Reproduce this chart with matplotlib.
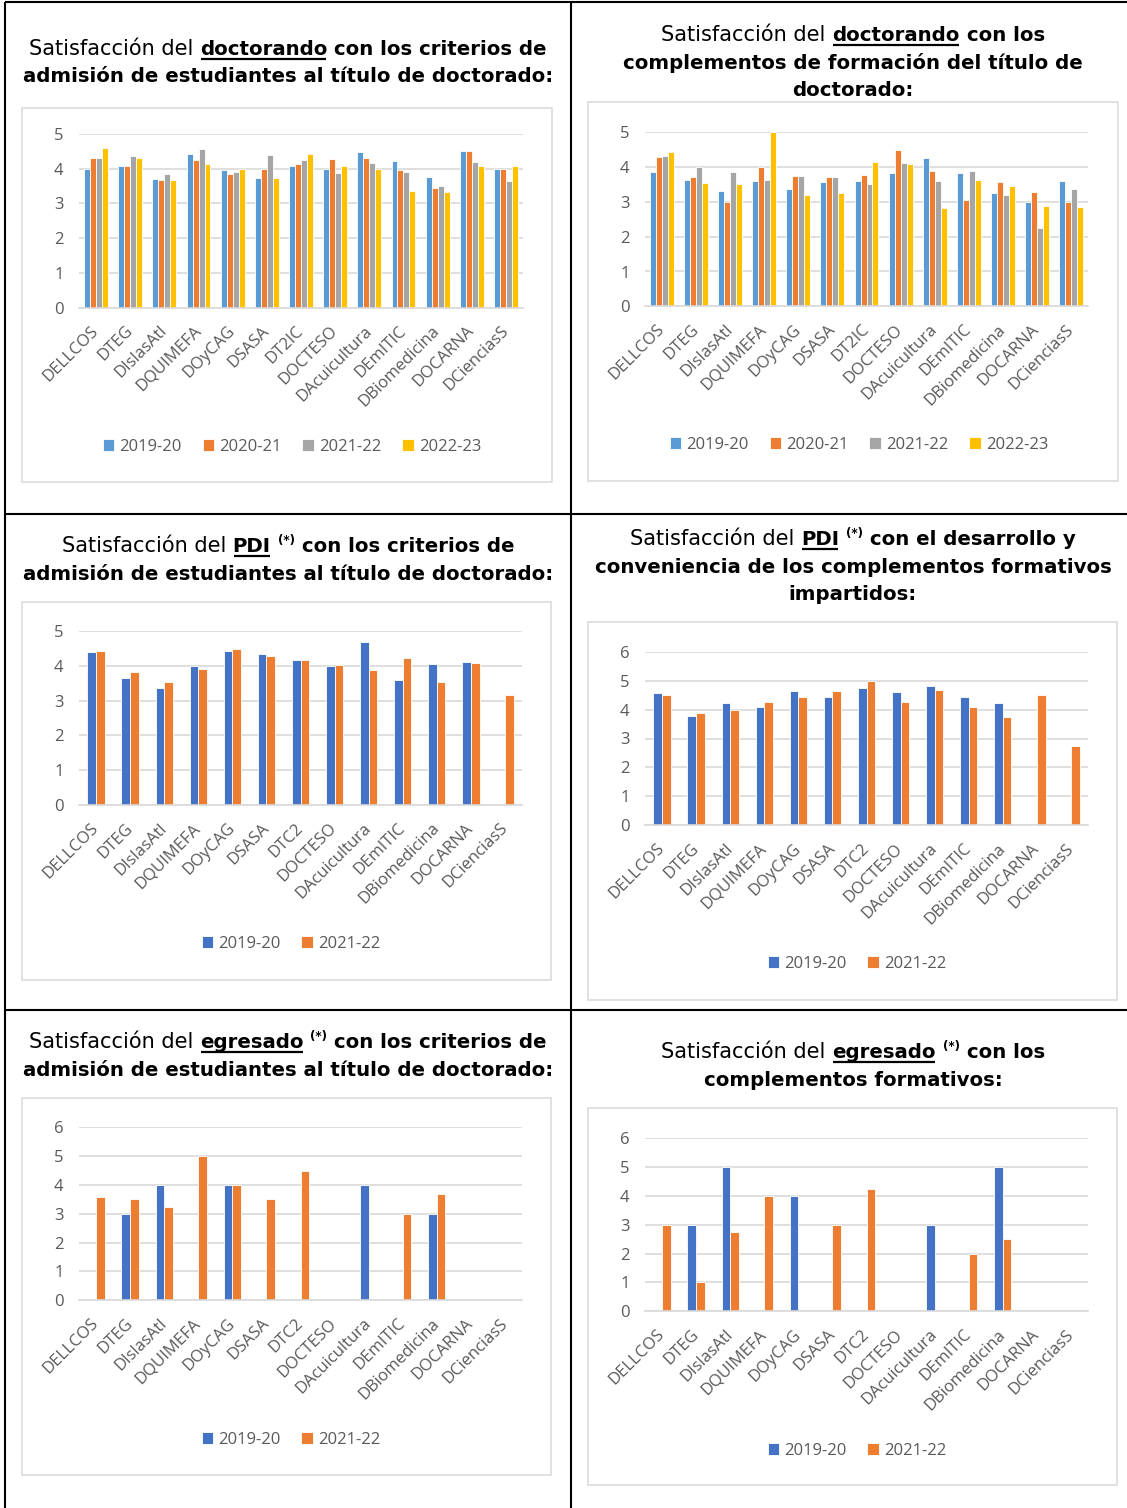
import matplotlib
matplotlib.use('Agg')
import matplotlib.pyplot as plt
from matplotlib.patches import Rectangle
import numpy as np

W, H = 1127, 1508

# ---- data ----
categories_a = ['DELLCOS', 'DTEG', 'DIslasAtl', 'DQUIMEFA', 'DOyCAG', 'DSASA', 'DT2IC',
                'DOCTESO', 'DAcuicultura', 'DEmITIC', 'DBiomedicina', 'DOCARNA', 'DCienciasS']
categories_b = ['DELLCOS', 'DTEG', 'DIslasAtl', 'DQUIMEFA', 'DOyCAG', 'DSASA', 'DTC2',
                'DOCTESO', 'DAcuicultura', 'DEmITIC', 'DBiomedicina', 'DOCARNA', 'DCienciasS']

years4 = ['2019-20', '2020-21', '2021-22', '2022-23']
years2 = ['2019-20', '2021-22']

# doctorando - criterios de admision
doct_adm_1920 = [4.0, 4.07, 3.7, 4.42, 3.95, 3.74, 4.07, 4.0, 4.47, 4.22, 3.77, 4.5, 4.0]
doct_adm_2021 = [4.31, 4.09, 3.67, 4.25, 3.86, 4.0, 4.14, 4.29, 4.31, 3.96, 3.45, 4.5, 4.0]
doct_adm_2122 = [4.3, 4.37, 3.84, 4.57, 3.91, 4.39, 4.24, 3.89, 4.16, 3.92, 3.49, 4.19, 3.64]
doct_adm_2223 = [4.59, 4.32, 3.68, 4.13, 4.0, 3.73, 4.42, 4.07, 4.0, 3.36, 3.32, 4.08, 4.09]

# doctorando - complementos de formacion
doct_comp_1920 = [3.87, 3.63, 3.32, 3.6, 3.37, 3.56, 3.6, 3.83, 4.25, 3.83, 3.25, 3.0, 3.6]
doct_comp_2021 = [4.29, 3.71, 3.0, 4.0, 3.73, 3.71, 3.76, 4.5, 3.9, 3.06, 3.56, 3.29, 3.0]
doct_comp_2122 = [4.33, 4.0, 3.87, 3.63, 3.75, 3.71, 3.5, 4.12, 3.6, 3.89, 3.21, 2.25, 3.38]
doct_comp_2223 = [4.44, 3.53, 3.5, 5.0, 3.2, 3.25, 4.15, 4.1, 2.83, 3.63, 3.46, 2.88, 2.86]

# PDI - criterios de admision
pdi_adm_1920 = [4.4, 3.64, 3.35, 4.0, 4.43, 4.33, 4.18, 4.0, 4.68, 3.58, 4.05, 4.1, None]
pdi_adm_2122 = [4.42, 3.83, 3.53, 3.92, 4.48, 4.28, 4.16, 4.03, 3.88, 4.22, 3.54, 4.08, 3.15]

# PDI - complementos formativos
pdi_comp_1920 = [4.57, 3.77, 4.22, 4.08, 4.63, 4.45, 4.76, 4.6, 4.8, 4.42, 4.24, None, None]
pdi_comp_2122 = [4.5, 3.87, 4.0, 4.25, 4.44, 4.64, 5.0, 4.25, 4.67, 4.08, 3.74, 4.5, 2.75]

# egresado - criterios de admision
egr_adm_1920 = [None, 3.0, 4.0, None, 4.0, None, None, None, 4.0, None, 3.0, None, None]
egr_adm_2122 = [3.57, 3.5, 3.25, 5.0, 4.0, 3.5, 4.5, None, None, 3.0, 3.67, None, None]

# egresado - complementos formativos
egr_comp_1920 = [None, 3.0, 5.0, None, 4.0, None, None, None, 3.0, None, 5.0, None, None]
egr_comp_2122 = [3.0, 1.0, 2.75, 4.0, None, 3.0, 4.25, None, None, 2.0, 2.5, None, None]

# ---- styling ----
colors4 = ['#5B9BD5', '#ED7D31', '#A5A5A5', '#FFC000']
colors2 = ['#4472C4', '#ED7D31']
TICK_FONT = 'Open Sans'
TITLE_FONT = 'DejaVu Sans'
TXT = '#595959'
GRID = '#D9D9D9'
TSIZE = 14.2

fig = plt.figure(figsize=(W / 100, H / 100), dpi=100)
ov = fig.add_axes([0, 0, 1, 1])
ov.set_xlim(0, W)
ov.set_ylim(H, 0)
ov.axis('off')
renderer = fig.canvas.get_renderer()

# table grid
for xs, ys in [([5, 5], [2, H]), ([571, 571], [2, H]), ([5, W], [2, 2]),
               ([5, W], [514, 514]), ([5, W], [1010, 1010])]:
    ov.plot(xs, ys, color='black', lw=1.5, solid_capstyle='butt')


def seg_props(st):
    if st == 'r':
        return dict(fontsize=TSIZE * 1.06, fontweight='normal')
    if st == 's':
        return dict(fontsize=TSIZE * 0.6, fontweight='bold')
    return dict(fontsize=TSIZE, fontweight='bold')


def advance(text, st):
    p = seg_props(st)
    t1 = ov.text(0, 0, '|' + text + '|', family=TITLE_FONT, **p)
    t2 = ov.text(0, 0, '||', family=TITLE_FONT, **p)
    w = t1.get_window_extent(renderer).width - t2.get_window_extent(renderer).width
    t1.remove()
    t2.remove()
    return w


def draw_title(lines, cx, ys):
    for segs, y in zip(lines, ys):
        widths = [advance(t, s) for t, s in segs]
        x = cx - sum(widths) / 2
        for (t, s), w in zip(segs, widths):
            yy = y - TSIZE * 0.55 if s == 's' else y
            ov.text(x, yy, t, family=TITLE_FONT, ha='left', va='baseline',
                    color='black', **seg_props(s))
            if s == 'u':
                ov.plot([x + 1, x + w - 1], [y + 4, y + 4], color='black', lw=1.6,
                        solid_capstyle='butt')
            x += w


def draw_chart(box, plot, ymax, cats, series, labels, colors, legend_xy):
    x0, y0, x1, y1 = box
    ov.add_patch(Rectangle((x0, y0), x1 - x0, y1 - y0, fill=False,
                           edgecolor=GRID, lw=1.1))
    px0, py0, px1, py1 = plot
    ax = fig.add_axes([px0 / W, 1 - py1 / H, (px1 - px0) / W, (py1 - py0) / H])
    n = len(series)
    total = 0.70 if n == 4 else 0.506
    bw = total / n
    xs = np.arange(len(cats))
    for i, (vals, lab, col) in enumerate(zip(series, labels, colors)):
        v = np.array([np.nan if a is None else a for a in vals], dtype=float)
        ax.bar(xs + (i - (n - 1) / 2) * bw, v, width=bw, color=col, label=lab,
               edgecolor='white', linewidth=0.6)
    ax.set_xlim(-0.5, len(cats) - 0.5)
    ax.set_ylim(0, ymax)
    ax.set_yticks(range(0, ymax + 1))
    ax.set_xticks(xs)
    ax.set_xticklabels(cats, rotation=45, ha='right', va='center',
                       rotation_mode='anchor', family=TICK_FONT, fontsize=12, color=TXT)
    for lb in ax.get_yticklabels():
        lb.set_family(TICK_FONT)
        lb.set_fontsize(12)
        lb.set_color(TXT)
    ax.tick_params(axis='both', length=0)
    ax.tick_params(axis='y', pad=11)
    ax.tick_params(axis='x', pad=15)
    ax.yaxis.grid(True, color=GRID, lw=1.2)
    ax.set_axisbelow(True)
    for sp in ['top', 'left', 'right']:
        ax.spines[sp].set_visible(False)
    ax.spines['bottom'].set_color(GRID)
    ax.spines['bottom'].set_linewidth(1.2)
    ax.legend(loc='center', bbox_to_anchor=(legend_xy[0] / W, 1 - legend_xy[1] / H),
              bbox_transform=fig.transFigure, ncol=n, frameon=False,
              prop={'family': TICK_FONT, 'size': 12}, labelcolor=TXT,
              handlelength=0.7, handleheight=0.7, handletextpad=0.3,
              columnspacing=1.25)
    return ax


line2_adm = [('admisión de estudiantes al título de doctorado:', 'b')]

# top-left
draw_title([[('Satisfacción del ', 'r'), ('doctorando', 'u'), (' con los criterios de', 'b')],
            line2_adm], 288, [55, 82])
draw_chart((22, 108, 552, 482), (79, 134, 523, 307.7), 5, categories_a,
           [doct_adm_1920, doct_adm_2021, doct_adm_2122, doct_adm_2223],
           years4, colors4, (292, 447))

# top-right
draw_title([[('Satisfacción del ', 'r'), ('doctorando', 'u'), (' con los', 'b')],
            [('complementos de formación del título de', 'b')],
            [('doctorado:', 'b')]], 853, [41, 69, 96])
draw_chart((588, 102, 1118, 481), (645, 132.3, 1088, 306.3), 5, categories_a,
           [doct_comp_1920, doct_comp_2021, doct_comp_2122, doct_comp_2223],
           years4, colors4, (859, 445))

# middle-left
draw_title([[('Satisfacción del ', 'r'), ('PDI', 'u'), (' ', 'b'), ('(*)', 's'),
             (' con los criterios de', 'b')], line2_adm], 288, [552, 580])
draw_chart((22, 602, 551, 980), (79, 631, 522, 805), 5, categories_b,
           [pdi_adm_1920, pdi_adm_2122], years2, colors2, (291, 944))

# middle-right
draw_title([[('Satisfacción del ', 'r'), ('PDI', 'u'), (' ', 'b'), ('(*)', 's'),
             (' con el desarrollo y', 'b')],
            [('conveniencia de los complementos formativos', 'b')],
            [('impartidos:', 'b')]], 853, [545, 573, 600])
draw_chart((588, 622, 1117, 1000), (645, 651.7, 1088, 825.3), 6, categories_b,
           [pdi_comp_1920, pdi_comp_2122], years2, colors2, (857, 964))

# bottom-left
draw_title([[('Satisfacción del ', 'r'), ('egresado', 'u'), (' ', 'b'), ('(*)', 's'),
             (' con los criterios de', 'b')], line2_adm], 288, [1048, 1076])
draw_chart((22, 1098, 551, 1475), (79, 1127.3, 522, 1300.3), 6, categories_b,
           [egr_adm_1920, egr_adm_2122], years2, colors2, (291, 1440))

# bottom-right
draw_title([[('Satisfacción del ', 'r'), ('egresado', 'u'), (' ', 'b'), ('(*)', 's'),
             (' con los', 'b')],
            [('complementos formativos:', 'b')]], 853, [1058, 1086])
draw_chart((588, 1108, 1117, 1485), (645, 1138, 1088, 1311.3), 6, categories_b,
           [egr_comp_1920, egr_comp_2122], years2, colors2, (857, 1451))

fig.savefig('out.png', dpi=100)
